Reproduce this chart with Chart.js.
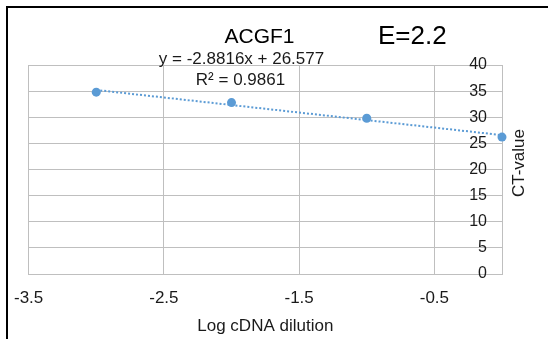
<!DOCTYPE html>
<html><head><meta charset="utf-8">
<script src="https://cdn.jsdelivr.net/npm/chart.js@4"></script>
<style>
html,body{margin:0;padding:0;background:#fff;}
#wrap{position:relative;width:548px;height:339px;overflow:hidden;background:#fff;}
#frame{position:absolute;left:6px;top:6px;width:600px;height:400px;border-left:2px solid #000;border-top:2px solid #000;box-sizing:border-box;pointer-events:none;}
canvas{position:absolute;left:0;top:0;}
</style></head><body>
<div id="wrap"><canvas id="c" width="548" height="339"></canvas><div id="frame"></div></div>
<script>
const logDilution = [-3, -2, -1, 0];
const ctValues = [34.8, 32.8, 29.8, 26.2];
const trendX = [-3, 0];
const trendY = [35.22, 26.58];
const xTicks = [-3.5, -2.5, -1.5, -0.5];
const yTicks = [0, 5, 10, 15, 20, 25, 30, 35, 40];
const chartTitle = 'ACGF1';
const efficiencyLabel = 'E=2.2';
const equationLabel = 'y = -2.8816x + 26.577';
const r2Label = 'R\u00B2 = 0.9861';
const xTitle = 'Log cDNA dilution';
const yTitle = 'CT-value';

const FONT = '"Liberation Sans", Arial, sans-serif';
const BLUE = '#5b9bd5';
const GRID = '#bfbfbf';
const TXT = '#1a1a1a';

const textPlugin = {
  id: 'texts',
  afterDraw(chart) {
    const ctx = chart.ctx;
    ctx.save();
    ctx.fillStyle = '#000';
    ctx.textBaseline = 'alphabetic';
    ctx.textAlign = 'center';
    ctx.font = '21px ' + FONT;
    ctx.fillText(chartTitle, 259.5, 43);
    ctx.textAlign = 'left';
    ctx.font = '26px ' + FONT;
    ctx.fillText(efficiencyLabel, 378, 44);
    ctx.fillStyle = TXT;
    ctx.textAlign = 'center';
    ctx.font = '17px ' + FONT;
    ctx.fillText(equationLabel, 241.5, 64);
    ctx.fillText(r2Label, 240.5, 85);
    ctx.translate(524, 163);
    ctx.rotate(-Math.PI / 2);
    ctx.fillText(yTitle, 0, 0);
    ctx.restore();
  }
};

new Chart(document.getElementById('c'), {
  type: 'scatter',
  data: {
    datasets: [
      {
        label: 'trend',
        data: trendX.map((x, i) => ({x: x, y: trendY[i]})),
        showLine: true,
        borderColor: BLUE,
        borderWidth: 2,
        borderDash: [2, 2],
        pointRadius: 0,
        fill: false,
        clip: false,
        order: 2
      },
      {
        label: 'CT',
        data: logDilution.map((x, i) => ({x: x, y: ctValues[i]})),
        backgroundColor: BLUE,
        borderColor: BLUE,
        pointRadius: 4.5,
        pointBorderWidth: 0,
        clip: false,
        order: 1
      }
    ]
  },
  options: {
    responsive: false,
    animation: false,
    layout: {padding: {left: 28, top: 65, right: 0, bottom: 0}},
    plugins: {legend: {display: false}, tooltip: {enabled: false}, title: {display: false}},
    scales: {
      x: {
        type: 'linear',
        position: 'bottom',
        min: -3.5, max: 0,
        afterBuildTicks: (axis) => { axis.ticks = xTicks.map(v => ({value: v})); },
        afterFit: (axis) => { axis.height = 65; },
        grid: {color: GRID, lineWidth: 1, drawTicks: false},
        border: {display: true, color: GRID, width: 1},
        ticks: {color: TXT, font: {family: FONT, size: 17}, padding: 14, maxRotation: 0,
          callback: (v) => String(v)},
        title: {display: true, text: xTitle, color: TXT, font: {family: FONT, size: 17}, padding: {top: 0, bottom: 2}}
      },
      y: {
        type: 'linear',
        position: 'right',
        min: 0, max: 40,
        afterBuildTicks: (axis) => { axis.ticks = yTicks.map(v => ({value: v})); },
        afterFit: (axis) => { axis.width = 46; },
        grid: {color: GRID, lineWidth: 1, drawTicks: false},
        border: {display: true, color: GRID, width: 1},
        ticks: {color: TXT, font: {family: FONT, size: 16}, mirror: true, padding: -15, crossAlign: 'near'}
      }
    }
  },
  plugins: [textPlugin]
});
</script>
</body></html>
